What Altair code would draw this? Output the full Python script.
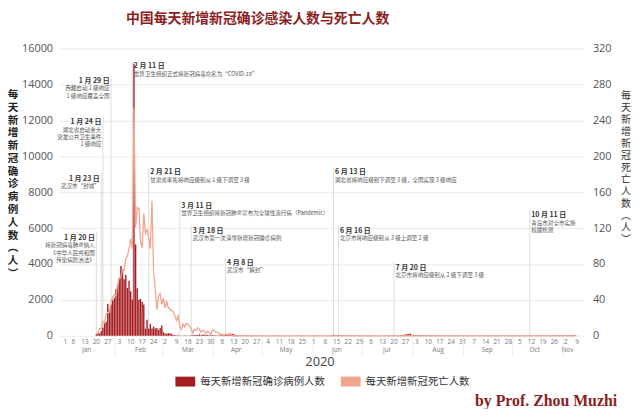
import altair as alt
import pandas as pd

TITLE = "中国每天新增新冠确诊感染人数与死亡人数"
SERIES = ["每天新增新冠确诊病例人数", "每天新增新冠死亡人数"]
COLORS = ["#A51D23", "#F0A68E"]
LEFT_TITLE = "每\n天\n新\n增\n新\n冠\n确\n诊\n病\n例\n人\n数\n︵\n人\n︶"
RIGHT_TITLE = "每\n天\n新\n增\n新\n冠\n死\n亡\n人\n数\n︵\n人\n︶"
SIGNATURE = "by Prof. Zhou Muzhi"
YEAR = "2020"
CJK = "Noto Sans CJK SC"
NUM = "Open Sans"

month_names = ["Jan", "Feb", "Mar", "Apr", "May", "Jun", "Jul", "Aug", "Sep", "Oct", "Nov"]
month_start = [0, 31, 60, 91, 121, 152, 182, 213, 244, 274, 305]   # day index (Jan 1 = 0)
month_label_day = [13, 46, 75, 104.5, 135, 166, 196.5, 228, 258, 287, 307]
first_day = [19, 0, 0, 0, 0, 0, 0, 0, 0, 0, 0]                    # data starts Jan 20

left_ticks = [0, 2000, 4000, 6000, 8000, 10000, 12000, 14000, 16000]
right_ticks = [0, 40, 80, 120, 160, 200, 240, 280, 320]
x_ticks = [0, 5, 12, 19, 26, 33, 40, 47, 54, 61, 68, 75, 82, 89, 96, 103, 110, 117, 124,
           131, 138, 145, 152, 159, 166, 173, 180, 187, 194, 201, 208, 215, 222, 229, 236,
           243, 250, 257, 264, 271, 278, 285, 292, 299, 306, 313]
x_tick_labels = ["1", "6", "13", "20", "27", "3", "10", "17", "24", "2", "9", "16", "23",
                 "30", "6", "13", "20", "27", "4", "11", "18", "25", "1", "8", "15", "22",
                 "29", "6", "13", "20", "27", "3", "10", "17", "24", "31", "7", "14", "21",
                 "28", "5", "12", "19", "26", "2", "9"]

# daily new confirmed cases, per month (Jan from the 20th)
confirmed = [
    [77, 149, 131, 259, 444, 688, 769, 1771, 1459, 1737, 1982, 2102],
    [2590, 2829, 3235, 3887, 3694, 3143, 3399, 2656, 3062, 2478, 2015, 15152, 5090, 2641,
     2009, 2048, 1886, 1749, 394, 889, 397, 648, 409, 508, 406, 433, 327, 427, 573],
    [202, 125, 119, 139, 143, 99, 44, 40, 19, 24, 15, 8, 11, 20, 16, 21, 13, 34, 39, 41,
     46, 39, 78, 47, 67, 55, 54, 45, 31, 48, 36],
    [35, 31, 19, 30, 39, 32, 62, 63, 42, 46, 99, 108, 89, 46, 26, 27, 26, 27, 16, 11, 30,
     10, 10, 6, 11, 3, 6, 22, 4, 12],
    [1, 2, 2, 3, 1, 2, 4, 1, 14, 17, 1, 7, 3, 4, 5, 8, 5, 6, 3, 2, 4, 2, 2, 11, 7, 1, 2,
     1, 2, 4, 16],
    [3, 5, 4, 4, 5, 5, 6, 3, 3, 11, 7, 11, 57, 49, 40, 44, 28, 25, 32, 26, 22, 18, 12, 19,
     13, 17, 21, 12, 19, 3],
    [3, 4, 5, 8, 8, 7, 4, 7, 7, 5, 7, 8, 3, 4, 5, 13, 22, 16, 22, 14, 11, 14, 21, 34, 46,
     61, 68, 101, 105, 127, 45],
    [49, 43, 36, 27, 37, 37, 32, 23, 23, 19, 25, 44, 19, 22, 27, 22, 16, 22, 22, 17, 22,
     22, 16, 9, 12, 20, 11, 5, 13, 9, 10],
    [10, 8, 7, 11, 10, 9, 8, 10, 10, 7, 9, 7, 12, 10, 8, 7, 32, 14, 8, 13, 10, 9, 7, 14,
     13, 7, 13, 12, 15, 12],
    [11, 8, 20, 21, 10, 11, 10, 7, 7, 16, 21, 15, 14, 13, 13, 24, 21, 13, 13, 10, 11, 15,
     26, 20, 26, 25, 42, 26, 27, 33, 18],
    [24, 24, 21, 28, 33, 24, 33, 39],
]

# daily new deaths, per month (Jan from the 20th)
deaths = [
    [3, 3, 8, 8, 16, 15, 24, 26, 26, 38, 43, 46],
    [45, 57, 64, 65, 73, 73, 86, 89, 97, 108, 97, 254, 121, 143, 142, 105, 98, 136, 114,
     118, 109, 97, 150, 71, 52, 29, 44, 47, 35],
    [42, 31, 38, 31, 30, 28, 27, 22, 17, 22, 11, 7, 13, 10, 14, 13, 11, 8, 3, 7, 6, 9, 7,
     4, 6, 5, 3, 5, 4, 1, 7],
    [6, 4, 4, 3, 1, 2, 0, 2, 1, 3, 2, 0, 0, 0, 0, 0, 0, 0, 0, 0, 0, 0, 0, 0, 0, 0, 0, 0,
     0, 0],
    [0, 0, 0, 0, 0, 0, 0, 0, 0, 0, 0, 0, 0, 0, 0, 0, 0, 0, 0, 0, 0, 0, 0, 0, 0, 0, 0, 0,
     0, 0, 0],
    [0, 0, 0, 0, 0, 0, 0, 0, 0, 0, 0, 0, 0, 0, 0, 0, 0, 0, 0, 0, 0, 0, 0, 0, 0, 0, 0, 0,
     0, 0],
    [0, 0, 0, 0, 0, 0, 0, 0, 0, 0, 0, 0, 0, 0, 0, 0, 0, 0, 0, 0, 0, 0, 0, 0, 0, 0, 0, 0,
     0, 0, 0],
    [0, 0, 0, 0, 0, 0, 0, 0, 0, 0, 0, 0, 0, 0, 0, 0, 0, 0, 0, 0, 0, 0, 0, 0, 0, 0, 0, 0,
     0, 0, 0],
    [0, 0, 0, 0, 0, 0, 0, 0, 0, 0, 0, 0, 0, 0, 0, 0, 0, 0, 0, 0, 0, 0, 0, 0, 0, 0, 0, 0,
     0, 0],
    [0, 0, 0, 0, 0, 0, 0, 0, 0, 0, 0, 0, 0, 0, 0, 0, 0, 0, 0, 0, 0, 0, 0, 0, 0, 0, 0, 0,
     0, 0, 0],
    [0, 0, 0, 0, 0, 0, 0, 0],
]

# annotations: day index, height (in case units), side, date, text
ann_day = [19, 22, 23, 28, 41, 51, 70, 77, 98, 164, 167, 201, 284]
ann_level = [5450, 8750, 11900, 14200, 15000, 9100, 7250, 5850, 4050, 9100, 5850, 3800, 6700]
ann_side = ["right", "right", "right", "right", "left", "left", "left", "left", "left",
            "left", "left", "left", "left"]
ann_date = ["1 月 20 日", "1 月 23 日", "1 月 24 日", "1 月 29 日", "2 月 11 日", "2 月 21 日",
            "3 月 11 日", "3 月 18 日", "4 月 8 日", "6 月 13 日", "6 月 16 日", "7 月 20 日",
            "10 月 11 日"]
ann_text = [
    "将新冠病毒肺炎纳入\n《中华人民共和国\n传染病防治法》",
    "武汉市“封城”",
    "湖北省启动重大\n突发公共卫生事件\n1 级响应",
    "西藏启动 1 级响应\n1 级响应覆盖全国",
    "世界卫生组织正式将新冠病毒命名为“COVID-19”",
    "甘肃省率先将响应级别从 1 级下调至 3 级",
    "世界卫生组织将新冠肺炎宣布为全球性流行病（Pandemic）",
    "武汉市第一次清零新增新冠确诊病例",
    "武汉市“解封”",
    "湖北省将响应级别下调至 3 级，全国实现 3 级响应",
    "北京市将响应级别从 3 级上调至 2 级",
    "北京市将响应级别从 2 级下调至 3 级",
    "青岛市对全市实施\n核酸检测",
]

# ---------- tables ----------
conf_rows, death_rows = [], []
for m in range(len(month_names)):
    for i, v in enumerate(confirmed[m]):
        conf_rows.append({"day": month_start[m] + first_day[m] + i, "cases": v, "series": SERIES[0]})
    for i, v in enumerate(deaths[m]):
        death_rows.append({"day": month_start[m] + first_day[m] + i, "deaths": v})
conf_df = pd.DataFrame(conf_rows)
death_df = pd.DataFrame(death_rows)

ann_df = pd.DataFrame({"day": ann_day, "level": ann_level, "side": ann_side,
                       "date": ann_date, "text": ann_text})
ann_df["top"] = ann_df["level"] + 300
ann_df["zero"] = 0

month_df = pd.DataFrame({"m": month_names, "mid": month_label_day})
sep_df = pd.DataFrame({"day": [s - 0.5 for s in month_start[1:]]})
tick_df = pd.DataFrame({"day": x_ticks, "lab": x_tick_labels})

W, H = 529, 290
xscale = alt.Scale(domain=[-0.5, 313.8], nice=False, zero=False)
yleft = alt.Scale(domain=[0, 16000], nice=False)
yright = alt.Scale(domain=[0, 320], nice=False)
X0 = alt.X("day:Q", scale=xscale, axis=None)

rules = alt.Chart(ann_df).mark_rule(color="#d4d4d4", strokeWidth=0.8).encode(
    x=X0, y=alt.Y("top:Q", scale=yleft, axis=None), y2="zero:Q")

bars = alt.Chart(conf_df).mark_bar(width=1.4).encode(
    x=alt.X("day:Q", scale=xscale, title=None,
            axis=alt.Axis(values=x_ticks, labels=False, tickSize=2, tickColor="#cccccc",
                          domainColor="#cccccc", grid=False)),
    y=alt.Y("cases:Q", scale=yleft, title=None,
            axis=alt.Axis(values=left_ticks, orient="left", format="d", labelFont=NUM,
                          labelFontSize=11, labelColor="#555", labelPadding=7, tickSize=0,
                          domain=False, grid=True, gridColor="#e6e6e6", gridWidth=0.8)),
    color=alt.Color("series:N", scale=alt.Scale(domain=SERIES, range=COLORS),
                    legend=alt.Legend(orient="none", legendX=117, legendY=326,
                                      direction="horizontal", title=None,
                                      symbolType="M-1,-0.5H1V0.5H-1Z", symbolSize=400,
                                      symbolStrokeWidth=0, symbolOpacity=1,
                                      labelFont=CJK, labelFontSize=10.5, labelColor="#333",
                                      labelOffset=5, columnPadding=16)),
)

line = alt.Chart(death_df).mark_line(color=COLORS[1], strokeWidth=1.3).encode(
    x=X0,
    y=alt.Y("deaths:Q", scale=yright, title=None,
            axis=alt.Axis(values=right_ticks, orient="right", format="d", labelFont=NUM,
                          labelFontSize=11, labelColor="#555", labelPadding=9, tickSize=0,
                          domain=False, grid=False)),
)

layers = [rules, bars, line]
for side, align, dx in [("left", "left", 1.5), ("right", "right", -1.5)]:
    sub = ann_df[ann_df["side"] == side]
    layers.append(alt.Chart(sub).mark_text(
        align=align, dx=dx, baseline="middle", font=CJK, fontSize=7, fontWeight="bold",
        color="#333").encode(x=X0, y=alt.Y("level:Q", scale=yleft, axis=None), text="date:N"))
    layers.append(alt.Chart(sub).mark_text(
        align=align, dx=dx, dy=5.5, baseline="top", font=CJK, fontSize=5.6, lineHeight=7.5,
        lineBreak="\n", color="#555").encode(
        x=X0, y=alt.Y("level:Q", scale=yleft, axis=None), text="text:N"))

day_labels = alt.Chart(tick_df).mark_text(font=NUM, fontSize=6.5, color="#777", baseline="middle").encode(
    x=X0, y=alt.value(296), text="lab:N")
months = alt.Chart(month_df).mark_text(font=NUM, fontSize=6.5, color="#777", baseline="middle").encode(
    x=alt.X("mid:Q", scale=xscale, axis=None), y=alt.value(304), text="m:N")
seps = alt.Chart(sep_df).mark_rule(color="#c8c8c8", strokeWidth=0.8, strokeDash=[1, 1.5]).encode(
    x=X0, y=alt.value(292), y2=alt.value(311))
layers += [day_labels, months, seps]

def label(text, **kw):
    x, y = kw.pop("x"), kw.pop("y")
    return alt.Chart(pd.DataFrame({"t": [text]})).mark_text(**kw).encode(
        text="t:N", x=alt.value(x), y=alt.value(y))

layers += [
    label(TITLE, x=200, y=-30, font=CJK, fontSize=14, fontWeight="bold", color="#8B1E1E",
          baseline="middle"),
    label(LEFT_TITLE, x=-47, y=42, font=CJK, fontSize=10.7, fontWeight="bold", color="#222",
          lineBreak="\n", lineHeight=12.9, baseline="top"),
    label(RIGHT_TITLE, x=572, y=43, font=CJK, fontSize=10, color="#333",
          lineBreak="\n", lineHeight=12.1, baseline="top"),
    label(YEAR, x=263, y=317, font=NUM, fontSize=13, color="#444", baseline="middle"),
    label(SIGNATURE, x=563, y=356, font="Liberation Serif", fontSize=16, fontWeight="bold",
          color="#8B1E1E", align="right", baseline="middle"),
]

chart = alt.layer(*layers).resolve_scale(y="independent").properties(
    width=W, height=H,
    autosize=alt.AutoSizeParams(type="none"),
    padding={"left": 52, "top": 39, "right": 49, "bottom": 72},
).configure_view(stroke=None)

chart.save("out.html", embed_options={"renderer": "svg", "actions": False})
